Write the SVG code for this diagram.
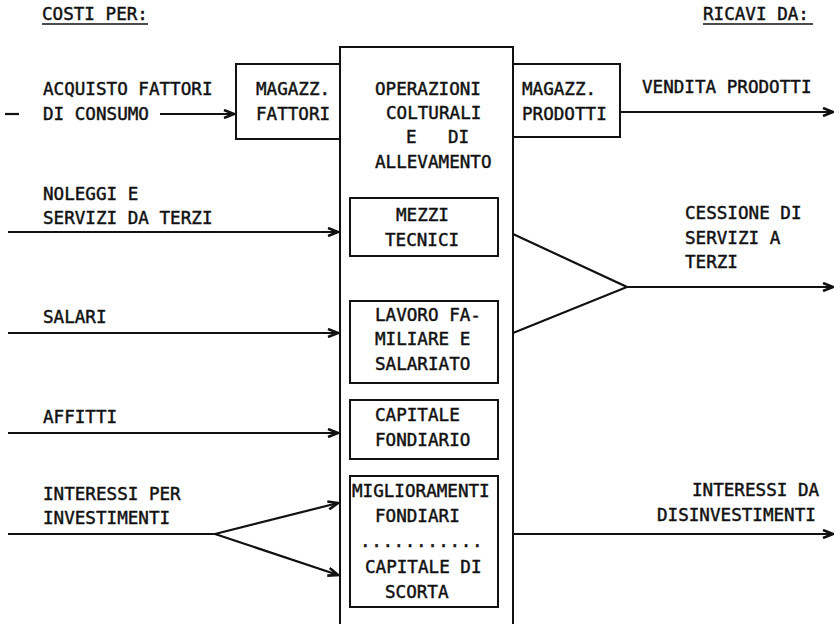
<svg xmlns="http://www.w3.org/2000/svg" width="840" height="624" viewBox="0 0 840 624">
  <style>
    text { font-family: "DejaVu Sans Mono", "Liberation Mono", monospace; font-size: 17.6px; fill: #111; stroke: #111; stroke-width: 0.45px; }
    .box { fill: none; stroke: #111; stroke-width: 2; }
    .ln { fill: none; stroke: #111; stroke-width: 2.2; }
  </style>
  <defs>
    <marker id="arr" viewBox="0 0 12 10" refX="11" refY="5" markerWidth="12" markerHeight="10" markerUnits="userSpaceOnUse" orient="auto">
      <path d="M1,1 L11,5 L1,9" fill="none" stroke="#111" stroke-width="2.6" stroke-linejoin="miter"/>
    </marker>
  </defs>
  <rect width="840" height="624" fill="#fff"/>

  <!-- column headings -->
  <g id="heading-costs">
    <text x="42" y="20">COSTI PER:</text>
    <line x1="42" y1="24" x2="148" y2="24" stroke="#111" stroke-width="1.5"/>
  </g>
  <g id="heading-revenues">
    <text x="703" y="20">RICAVI DA:</text>
    <line x1="703" y1="24" x2="813" y2="24" stroke="#111" stroke-width="1.5"/>
  </g>

  <!-- cost labels -->
  <g id="label-acquisto">
    <text x="43" y="95">ACQUISTO FATTORI</text>
    <text x="43" y="120">DI CONSUMO</text>
  </g>
  <g id="label-noleggi">
    <text x="43" y="200">NOLEGGI E</text>
    <text x="43" y="224">SERVIZI DA TERZI</text>
  </g>
  <g id="label-salari"><text x="43" y="323">SALARI</text></g>
  <g id="label-affitti"><text x="43" y="423">AFFITTI</text></g>
  <g id="label-interessi-per">
    <text x="43" y="500">INTERESSI PER</text>
    <text x="43" y="524">INVESTIMENTI</text>
  </g>

  <!-- revenue labels -->
  <g id="label-vendita"><text x="642" y="93">VENDITA PRODOTTI</text></g>
  <g id="label-cessione">
    <text x="685" y="219">CESSIONE DI</text>
    <text x="685" y="244">SERVIZI A</text>
    <text x="685" y="268">TERZI</text>
  </g>
  <g id="label-interessi-da">
    <text x="692" y="496">INTERESSI DA</text>
    <text x="657" y="521">DISINVESTIMENTI</text>
  </g>

  <!-- stores -->
  <g id="magazz-fattori">
    <rect class="box" x="236" y="64" width="104" height="75"/>
    <text x="256" y="95">MAGAZZ.</text>
    <text x="256" y="120">FATTORI</text>
  </g>
  <g id="magazz-prodotti">
    <rect class="box" x="513" y="64" width="107" height="73"/>
    <text x="522" y="95">MAGAZZ.</text>
    <text x="522" y="120">PRODOTTI</text>
  </g>

  <!-- central operations block -->
  <g id="operazioni">
    <path class="box" d="M340,630 V47 H513 V630"/>
    <text x="375" y="95">OPERAZIONI</text>
    <text x="386" y="119">COLTURALI</text>
    <text x="406" y="143">E</text>
    <text x="448" y="143">DI</text>
    <text x="375" y="168">ALLEVAMENTO</text>
  </g>
  <g id="mezzi-tecnici">
    <rect class="box" x="350" y="198" width="148" height="58"/>
    <text x="396" y="221">MEZZI</text>
    <text x="385" y="246">TECNICI</text>
  </g>
  <g id="lavoro">
    <rect class="box" x="350" y="301" width="148" height="82"/>
    <text x="375" y="321">LAVORO FA-</text>
    <text x="375" y="345">MILIARE E</text>
    <text x="375" y="370">SALARIATO</text>
  </g>
  <g id="capitale-fondiario">
    <rect class="box" x="350" y="400" width="148" height="59"/>
    <text x="375" y="421">CAPITALE</text>
    <text x="375" y="446">FONDIARIO</text>
  </g>
  <g id="miglioramenti">
    <rect class="box" x="350" y="476" width="148" height="131"/>
    <text x="352" y="497">MIGLIORAMENTI</text>
    <text x="375" y="522">FONDIARI</text>
    <text x="360" y="547" letter-spacing="0.6">...........</text>
    <text x="365" y="573">CAPITALE DI</text>
    <text x="385" y="598">SCORTA</text>
  </g>

  <!-- flows -->
  <g id="connectors">
    <line class="ln" x1="5" y1="114" x2="19" y2="114"/>
    <line class="ln" x1="160" y1="114" x2="234" y2="114" marker-end="url(#arr)"/>
    <line class="ln" x1="620" y1="112" x2="833" y2="112" marker-end="url(#arr)"/>
    <line class="ln" x1="8" y1="232" x2="338" y2="232" marker-end="url(#arr)"/>
    <line class="ln" x1="8" y1="333" x2="338" y2="333" marker-end="url(#arr)"/>
    <line class="ln" x1="8" y1="433" x2="338" y2="433" marker-end="url(#arr)"/>
    <polyline class="ln" points="8,534 215,534"/>
    <line class="ln" x1="215" y1="534" x2="338" y2="503" marker-end="url(#arr)"/>
    <line class="ln" x1="215" y1="534" x2="338" y2="575" marker-end="url(#arr)"/>
    <polyline class="ln" points="513,234 627,287 513,333"/>
    <line class="ln" x1="627" y1="287" x2="833" y2="287" marker-end="url(#arr)"/>
    <line class="ln" x1="513" y1="534" x2="833" y2="534" marker-end="url(#arr)"/>
  </g>
</svg>
